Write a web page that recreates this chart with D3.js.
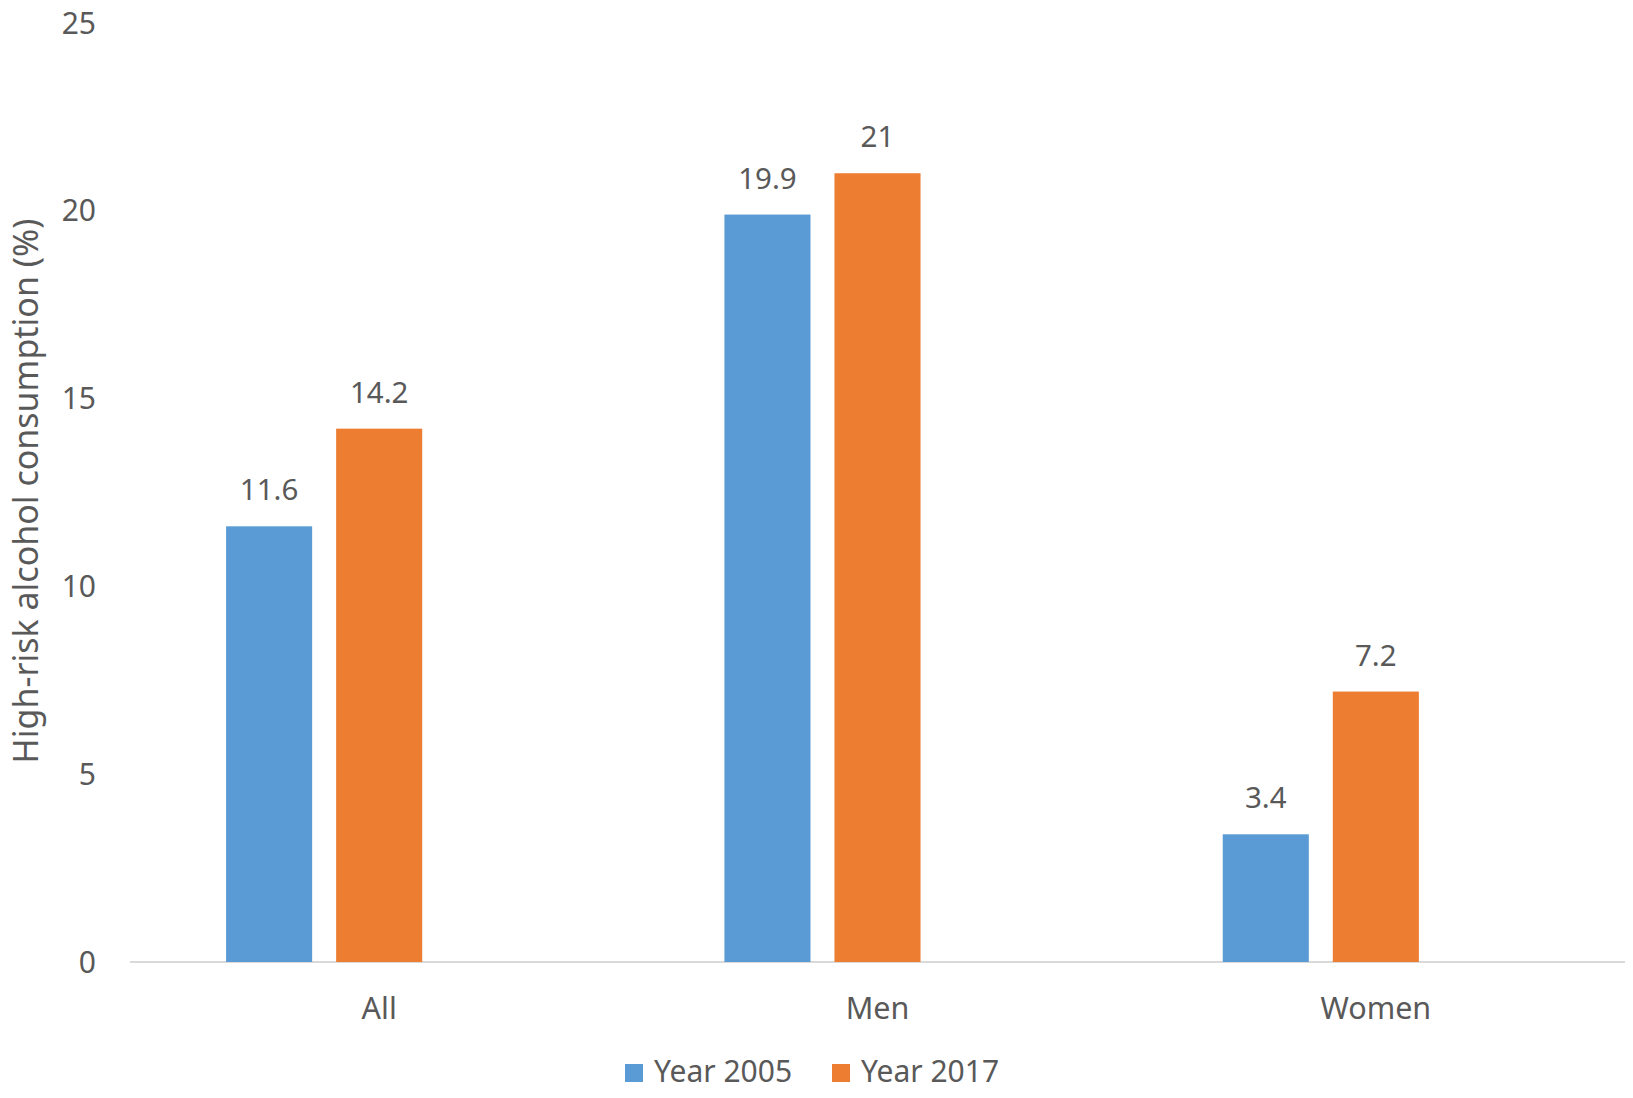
<!DOCTYPE html>
<html>
<head>
<meta charset="utf-8">
<script src="https://cdn.jsdelivr.net/npm/d3@7"></script>
<style>
  body { margin: 0; background: #fff; }
  text { font-family: "Noto Sans", "Open Sans", sans-serif; fill: #595959; }
</style>
</head>
<body>
<div class="chart"></div>
<script>
// data
var categories = ["All", "Men", "Women"];
var seriesNames = ["Year 2005", "Year 2017"];
var year2005 = [11.6, 19.9, 3.4];
var year2017 = [14.2, 21, 7.2];
var yTicks = [0, 5, 10, 15, 20, 25];
var colors = ["#5B9BD5", "#ED7D31"];

var W = 1633, H = 1098;
var margin = {top: 23, right: 8, bottom: 136, left: 130};
var w = W - margin.left - margin.right;
var h = H - margin.top - margin.bottom;

var svg = d3.select(".chart").append("svg")
    .attr("width", W)
    .attr("height", H);
var g = svg.append("g")
    .attr("transform", "translate(" + margin.left + "," + margin.top + ")");

var x0 = d3.scaleBand().domain(categories).range([0, w]).padding(0);
// third empty slot keeps the bars shifted left like the original
var x1 = d3.scaleBand().domain(seriesNames.concat([""]))
    .range([0, x0.bandwidth()])
    .paddingInner(0.218)
    .paddingOuter(0.873);
var y = d3.scaleLinear().domain([0, 25]).range([h, 0]);

// y tick labels
g.selectAll(".ytick")
    .data(yTicks)
    .enter()
    .append("text")
    .attr("x", -34)
    .attr("y", function(d) { return y(d); })
    .attr("dy", "0.35em")
    .attr("text-anchor", "end")
    .style("font-size", "30px")
    .text(function(d) { return d; });

// baseline
g.append("line")
    .attr("x1", 0).attr("x2", w)
    .attr("y1", y(0)).attr("y2", y(0))
    .attr("stroke", "#D9D9D9")
    .attr("stroke-width", 2);

var rows = categories.map(function(c, i) {
    return {cat: c, vals: [year2005[i], year2017[i]]};
});

var groups = g.selectAll(".grp")
    .data(rows)
    .enter()
    .append("g")
    .attr("transform", function(d) { return "translate(" + x0(d.cat) + ",0)"; });

groups.selectAll("rect")
    .data(function(d) { return d.vals.map(function(v, j) { return {s: seriesNames[j], v: v, j: j}; }); })
    .enter()
    .append("rect")
    .attr("x", function(d) { return x1(d.s); })
    .attr("width", x1.bandwidth())
    .attr("y", function(d) { return y(d.v); })
    .attr("height", function(d) { return y(0) - y(d.v); })
    .attr("fill", function(d) { return colors[d.j]; });

groups.selectAll(".lbl")
    .data(function(d) { return d.vals.map(function(v, j) { return {s: seriesNames[j], v: v}; }); })
    .enter()
    .append("text")
    .attr("x", function(d) { return x1(d.s) + x1.bandwidth() / 2; })
    .attr("y", function(d) { return y(d.v) - 26; })
    .attr("text-anchor", "middle")
    .style("font-size", "29.5px")
    .text(function(d) { return d.v; });

// category labels
g.selectAll(".xlab")
    .data(categories)
    .enter()
    .append("text")
    .attr("x", function(d) { return x0(d) + x0.bandwidth() / 2; })
    .attr("y", h + 57)
    .attr("text-anchor", "middle")
    .style("font-size", "30.5px")
    .text(function(d) { return d; });

// y axis title
svg.append("text")
    .attr("transform", "translate(38," + 491 + ") rotate(-90)")
    .attr("text-anchor", "middle")
    .style("font-size", "34px")
    .text("High-risk alcohol consumption (%)");

// legend
var legendX = [625, 832];
var legend = svg.selectAll(".leg")
    .data(seriesNames)
    .enter()
    .append("g")
    .attr("transform", function(d, i) { return "translate(" + legendX[i] + ",1064)"; });
legend.append("rect")
    .attr("width", 18).attr("height", 18)
    .attr("fill", function(d, i) { return colors[i]; });
legend.append("text")
    .attr("x", 29)
    .attr("y", 18)
    .style("font-size", "30px")
    .text(function(d) { return d; });
</script>
</body>
</html>
